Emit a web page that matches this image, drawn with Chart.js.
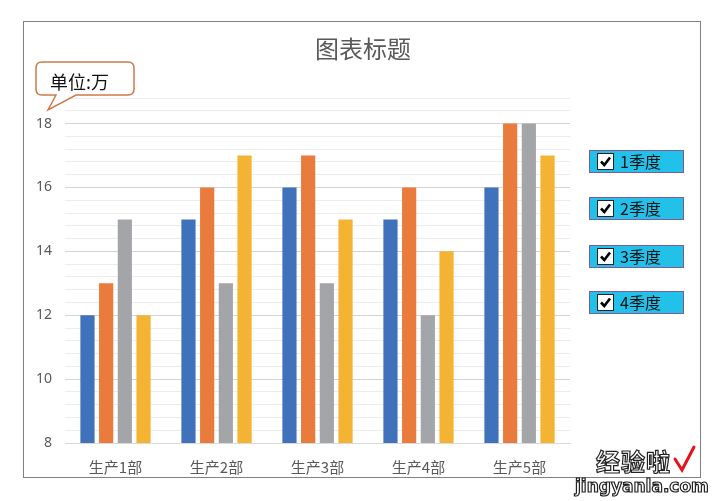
<!DOCTYPE html>
<html>
<head>
<meta charset="utf-8">
<script src="https://cdn.jsdelivr.net/npm/chart.js@4"></script>
<style>
  html, body { margin: 0; padding: 0; background: #fff; }
  #wrap { position: relative; width: 717px; height: 501px; overflow: hidden; font-family: "Noto Sans CJK SC", "Noto Sans", sans-serif; }
  #frame { position: absolute; left: 23px; top: 21px; width: 678px; height: 457px; border: 1px solid #808080; box-sizing: border-box; }
  canvas { position: absolute; left: 0; top: 0; }
  #title { position: absolute; left: 0; width: 726px; top: 30px; text-align: center; font-size: 24px; color: #595959; }
  .leg { position: absolute; left: 589px; width: 95px; height: 23px; background: #22c1ea; border: 1px solid #7d5a9b; box-sizing: border-box; font-size: 16px; line-height: 21px; color: #111; }
  .leg svg { position: absolute; left: 7px; top: 2px; }
  .leg .txt { position: absolute; left: 30px; top: 0; }
  #unit { position: absolute; left: 50px; top: 68px; font-size: 18px; color: #111; }
  #wm1 { position: absolute; left: 596px; top: 443px; font-size: 24px; font-weight: bold; color: #fff; -webkit-text-stroke: 1.2px #222; letter-spacing: 1px; }
  #wm2 { position: absolute; left: 575px; top: 476px; font-size: 17px; font-weight: bold; color: #fff; -webkit-text-stroke: 1.2px #222; font-family: "DejaVu Sans", sans-serif; }
</style>
</head>
<body>
<div id="wrap">
  <div id="frame"></div>
  <canvas id="c" width="717" height="501"></canvas>
  <div id="title">图表标题</div>
  <svg width="717" height="501" style="position:absolute;left:0;top:0">
    <path d="M42,62 H128 Q134,62 134,68 V89 Q134,95 128,95 H76 L48,110 L56,95 H42 Q36,95 36,89 V68 Q36,62 42,62 Z"
          fill="#fff" stroke="#cc7a4c" stroke-width="1.5"/>
    <path d="M675,459 L682,470 L694,447" fill="none" stroke="#e8101a" stroke-width="3" stroke-linecap="round"/>
  </svg>
  <div id="unit">单位:万</div>
  <div id="legend"></div>
  <div id="wm1">经验啦</div>
  <div id="wm2">jingyanla.com</div>
</div>
<script>
    const categories = ["生产1部", "生产2部", "生产3部", "生产4部", "生产5部"];
    const seriesNames = ["1季度", "2季度", "3季度", "4季度"];
    const q1 = [12, 15, 16, 15, 16];
    const q2 = [13, 16, 17, 16, 18];
    const q3 = [15, 13, 13, 12, 18];
    const q4 = [12, 17, 15, 14, 17];
    const yMin = 8, yMax = 18.8, yStep = 0.4;
    const yLabels = [8, 10, 12, 14, 16, 18];

    const COLORS = ["#3f72bb", "#e97b3c", "#a4a5a8", "#f5b333"];
    const LEGEND_TOPS = [150, 197, 245, 291];

    function isMajor(v) { return yLabels.some(l => Math.abs(l - v) < 1e-6); }

    /* legend boxes with checkbox */
    const CHECK = '<svg width="17" height="17"><rect x="0.5" y="0.5" width="16" height="16" fill="#fff" stroke="#222"/>'
        + '<path d="M4,8.5 L7.3,12 L13,4.5" fill="none" stroke="#000" stroke-width="2.6"/></svg>';
    const leg = document.getElementById("legend");
    seriesNames.forEach((n, i) => {
        const d = document.createElement("div");
        d.className = "leg";
        d.style.top = LEGEND_TOPS[i] + "px";
        d.innerHTML = CHECK + '<div class="txt">' + n + '</div>';
        leg.appendChild(d);
    });

    const data = [q1, q2, q3, q4];
    new Chart(document.getElementById("c"), {
        type: "bar",
        data: {
            labels: categories,
            datasets: seriesNames.map((n, i) => ({
                label: n, data: data[i], backgroundColor: COLORS[i],
                categoryPercentage: 0.74, barPercentage: 0.76
            }))
        },
        options: {
            responsive: false, animation: false,
            layout: { padding: { left: 25, right: 147, top: 98, bottom: 23 } },
            plugins: {
                legend: { display: false },
                tooltip: { enabled: false },
                title: { display: false }
            },
            scales: {
                x: {
                    grid: { display: false },
                    border: { color: "#d9d9d9" },
                    ticks: { color: "#595959", font: { family: "Noto Sans CJK SC", size: 15 }, padding: 7 },
                    afterFit: s => { s.height = 35; }
                },
                y: {
                    min: yMin, max: yMax,
                    afterBuildTicks: s => {
                        const t = [];
                        for (let k = 0; k <= Math.round((yMax - yMin) / yStep); k++) t.push({ value: +(yMin + k * yStep).toFixed(2) });
                        s.ticks = t;
                    },
                    border: { display: false },
                    grid: {
                        drawTicks: false,
                        color: c => isMajor(c.tick.value) ? "#d4d4d4" : "#ececec"
                    },
                    ticks: {
                        color: "#595959", padding: 13,
                        font: { family: "Noto Sans", size: 14 },
                        autoSkip: false,
                        callback: v => isMajor(v) ? String(Math.round(v)) : ""
                    },
                    afterFit: s => { s.width = 40; }
                }
            }
        }
    });
</script>
</body>
</html>
